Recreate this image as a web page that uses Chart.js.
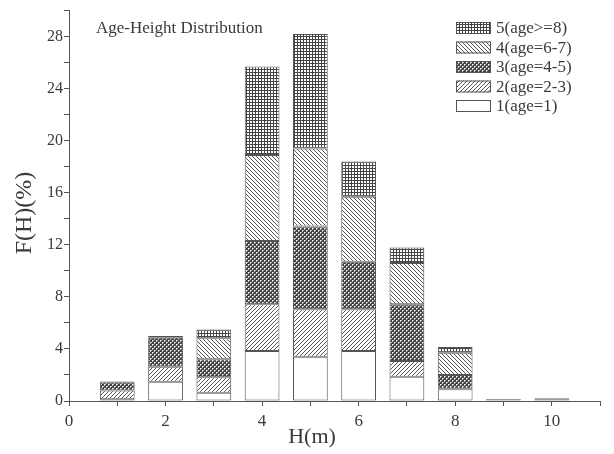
<!DOCTYPE html>
<html>
<head>
<meta charset="utf-8">
<script src="https://cdn.jsdelivr.net/npm/chart.js@4.4.1/dist/chart.umd.min.js"></script>
<style>
html,body{margin:0;padding:0;background:#fff;}
#wrap{width:614px;height:454px;}
</style>
</head>
<body>
<div id="wrap"><canvas id="c" width="614" height="454"></canvas></div>
<script>
// ---- data ----
const heights = [1, 2, 3, 4, 5, 6, 7, 8, 9, 10];
const age1   = [0.13, 1.48, 0.64, 3.85, 3.40, 3.85, 1.87, 0.90, 0.10, 0.10];
const age23  = [0.67, 1.16, 1.18, 3.58, 3.65, 3.20, 1.21, 0.05, 0.00, 0.05];
const age45  = [0.65, 2.23, 1.38, 4.87, 6.35, 3.65, 4.35, 1.05, 0.00, 0.00];
const age67  = [0.00, 0.05, 1.62, 6.60, 6.00, 5.00, 3.17, 1.70, 0.00, 0.05];
const age8p  = [0.05, 0.08, 0.68, 6.80, 8.80, 2.70, 1.20, 0.45, 0.05, 0.05];
const seriesNames = ['1(age=1)', '2(age=2-3)', '3(age=4-5)', '4(age=6-7)', '5(age>=8)'];
const yTicks = [0, 4, 8, 12, 16, 20, 24, 28];
const xTicks = [0, 2, 4, 6, 8, 10];
const chartTitle = 'Age-Height Distribution';
const xTitle = 'H(m)';
const yTitle = 'F(H)(%)';

const SERIF = "'Liberation Serif','Times New Roman',serif";
const INK = '#3a3a3a';

function makePattern(size, draw) {
  const c = document.createElement('canvas');
  c.width = size; c.height = size;
  const g = c.getContext('2d');
  g.fillStyle = '#fff';
  g.fillRect(0, 0, size, size);
  draw(g);
  return document.getElementById('c').getContext('2d').createPattern(c, 'repeat');
}
const patWhite = '#ffffff';
const patFwd = makePattern(4, g => { g.fillStyle = '#555'; for (let i = 0; i < 4; i++) g.fillRect(3 - i, i, 1, 1); });
const patDots = makePattern(4, g => {
  g.fillStyle = '#444'; g.fillRect(0, 0, 4, 4);
  g.fillStyle = '#fff'; g.fillRect(0, 0, 1, 1); g.fillRect(2, 2, 1, 1);
  g.fillStyle = '#b5b5b5'; g.fillRect(1, 0, 1, 1); g.fillRect(0, 1, 1, 1); g.fillRect(3, 2, 1, 1); g.fillRect(2, 3, 1, 1);
});
const patBack = makePattern(4, g => { g.fillStyle = '#555'; for (let i = 0; i < 4; i++) g.fillRect(i, i, 1, 1); });
const patGrid = makePattern(3, g => { g.fillStyle = '#444'; g.fillRect(0, 0, 3, 1); g.fillRect(0, 0, 1, 3); });

const fills = [patWhite, patFwd, patDots, patBack, patGrid];
const allSeries = [age1, age23, age45, age67, age8p];

const datasets = allSeries.map((vals, i) => ({
  label: seriesNames[i],
  data: heights.map((h, j) => ({ x: h, y: vals[j] })),
  backgroundColor: fills[i],
  borderColor: '#555',
  borderWidth: 1,
  borderSkipped: false,
  barPercentage: 0.72,
  categoryPercentage: 1.0
}));

const decorPlugin = {
  id: 'decor',
  afterDraw(chart) {
    const ctx = chart.ctx;
    ctx.save();
    // title
    ctx.fillStyle = INK;
    ctx.font = '17px ' + SERIF;
    ctx.textAlign = 'left';
    ctx.textBaseline = 'middle';
    ctx.fillText(chartTitle, 96, 29);
    // legend (reversed order)
    const rows = [28, 47.5, 67, 86.5, 106];
    for (let r = 0; r < 5; r++) {
      const idx = 4 - r;
      const cy = rows[r];
      ctx.fillStyle = fills[idx];
      ctx.fillRect(456, cy - 6, 35, 12);
      ctx.strokeStyle = '#555';
      ctx.lineWidth = 1;
      ctx.strokeRect(456.5, cy - 5.5, 34, 11);
      ctx.fillStyle = INK;
      ctx.font = '17px ' + SERIF;
      ctx.textAlign = 'left';
      ctx.textBaseline = 'middle';
      ctx.fillText(seriesNames[idx], 496, cy + 1);
    }
    // axis titles
    ctx.font = '22px ' + SERIF;
    ctx.textAlign = 'center';
    ctx.textBaseline = 'middle';
    ctx.fillText(xTitle, 312, 437);
    ctx.font = '24px ' + SERIF;
    ctx.translate(25, 213);
    ctx.rotate(-Math.PI / 2);
    ctx.fillText(yTitle, 0, 0);
    ctx.restore();
  }
};

new Chart(document.getElementById('c'), {
  type: 'bar',
  data: { datasets },
  options: {
    responsive: false,
    animation: false,
    devicePixelRatio: 1,
    layout: { padding: { left: 0, right: 14, top: 10, bottom: 0 } },
    plugins: { legend: { display: false }, tooltip: { enabled: false }, title: { display: false } },
    scales: {
      x: {
        type: 'linear',
        stacked: true,
        offset: false,
        min: 0, max: 11,
        grid: { offset: false, drawOnChartArea: false, drawTicks: true, tickLength: 5, color: '#555' },
        border: { display: true, color: '#555', width: 1 },
        ticks: {
          stepSize: 1,
          autoSkip: false,
          maxRotation: 0,
          padding: 5,
          color: INK,
          font: { family: SERIF, size: 17 },
          callback: v => xTicks.includes(v) ? String(v) : ''
        },
        afterFit: s => { s.height = 53; }
      },
      y: {
        stacked: true,
        min: 0, max: 30,
        grid: { drawOnChartArea: false, drawTicks: true, tickLength: 5, color: '#555' },
        border: { display: true, color: '#555', width: 1 },
        ticks: {
          stepSize: 2,
          autoSkip: false,
          padding: 1,
          color: INK,
          font: { family: SERIF, size: 16 },
          callback: v => yTicks.includes(v) ? String(v) : ''
        },
        afterFit: s => { s.width = 69; }
      }
    }
  },
  plugins: [decorPlugin]
});
</script>
</body>
</html>
